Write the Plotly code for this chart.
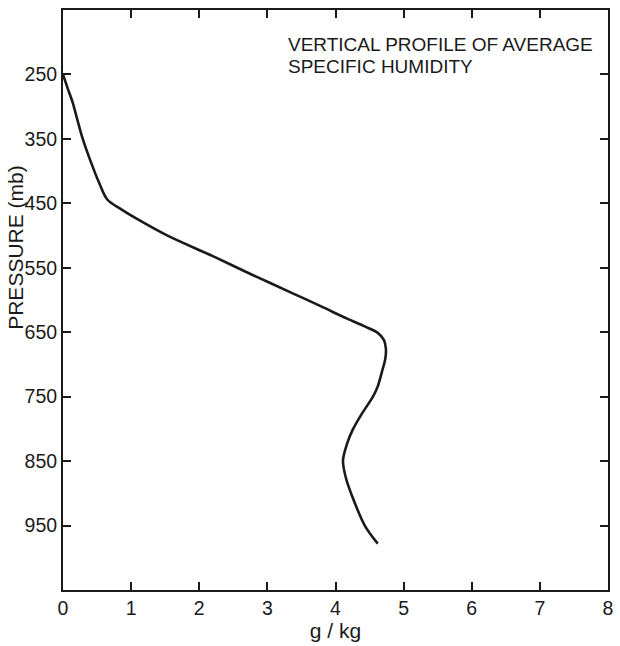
import plotly.graph_objects as go

pressure = [250, 272, 293, 320, 350, 386, 418, 444, 459, 475, 501, 532, 560, 590, 610, 629, 641, 651, 662, 676, 692, 708, 734, 750, 776, 802, 823, 849, 875, 906, 950, 978]
humidity = [0.0, 0.07, 0.14, 0.21, 0.29, 0.41, 0.53, 0.65, 0.85, 1.1, 1.55, 2.2, 2.76, 3.38, 3.79, 4.17, 4.43, 4.62, 4.71, 4.74, 4.73, 4.69, 4.62, 4.55, 4.39, 4.25, 4.17, 4.11, 4.15, 4.25, 4.43, 4.62]

x_ticks = [0, 1, 2, 3, 4, 5, 6, 7, 8]
y_ticks = [250, 350, 450, 550, 650, 750, 850, 950]
title_lines = ["VERTICAL PROFILE OF AVERAGE", "SPECIFIC HUMIDITY"]

FONT = "Liberation Sans, Arial, sans-serif"
INK = "#1a1a1a"

fig = go.Figure()
fig.add_trace(go.Scatter(
    x=humidity, y=pressure, mode="lines",
    line=dict(color=INK, width=2.6, shape="spline", smoothing=0.9),
    showlegend=False, hoverinfo="skip",
))

for i, line in enumerate(title_lines):
    fig.add_annotation(
        x=3.28, y=0.94 - i * 0.038, xref="x", yref="paper",
        text=line, showarrow=False, xanchor="left", yanchor="middle", align="left",
        font=dict(family=FONT, size=19, color=INK),
    )

# y axis title placed as annotation (not centred on the plot in the original)
fig.add_annotation(
    x=0, y=0.59, xref="paper", yref="paper", xshift=-47,
    text="PRESSURE (mb)", textangle=-90, showarrow=False,
    xanchor="center", yanchor="middle",
    font=dict(family=FONT, size=21, color=INK),
)

fig.update_xaxes(
    range=[0, 8], tickvals=x_ticks, ticktext=[str(v) for v in x_ticks],
    ticks="inside", ticklen=8, tickwidth=2, tickcolor=INK,
    showline=True, linewidth=2, linecolor=INK, mirror="ticks",
    showgrid=False, zeroline=False,
    title=dict(text="g / kg", font=dict(family=FONT, size=21, color=INK), standoff=4),
    tickfont=dict(family=FONT, size=19.5, color=INK),
)
fig.update_yaxes(
    range=[1050, 150], tickvals=y_ticks, ticktext=[str(v) for v in y_ticks],
    ticks="inside", ticklen=8, tickwidth=2, tickcolor=INK,
    showline=True, linewidth=2, linecolor=INK, mirror="ticks",
    showgrid=False, zeroline=False,
    tickfont=dict(family=FONT, size=19.5, color=INK),
)

fig.update_layout(
    width=620, height=646,
    margin=dict(l=63, r=7, t=10, b=56),
    plot_bgcolor="white", paper_bgcolor="white",
)

fig.write_html("out.html")
